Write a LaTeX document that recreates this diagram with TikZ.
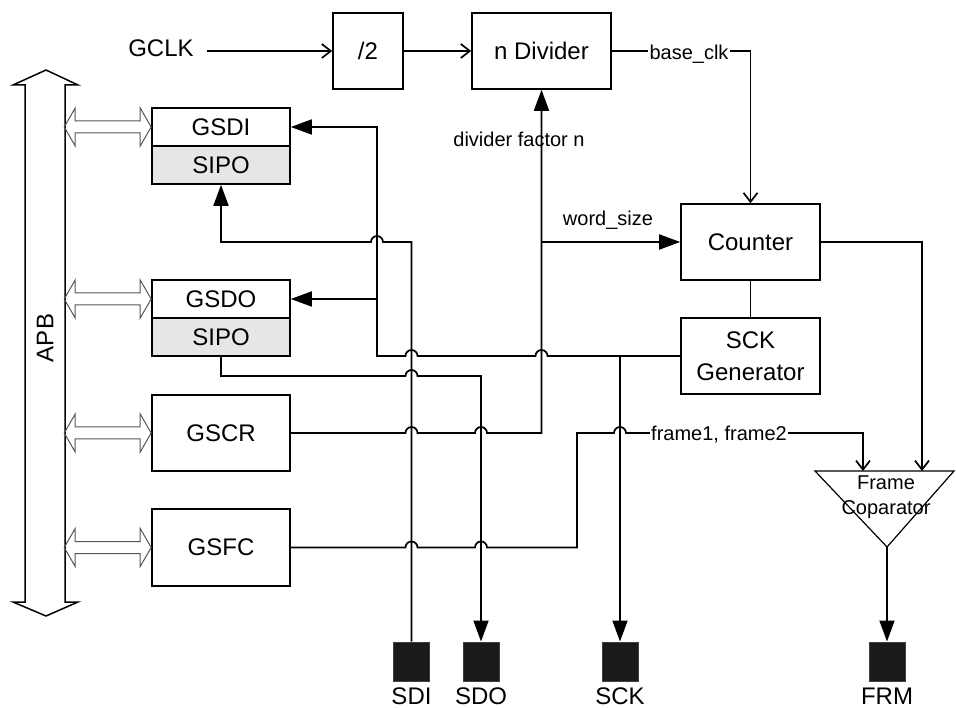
\documentclass[tikz,border=0pt]{standalone}
\usepackage{fontspec}
\setmainfont{Liberation Sans}
\usetikzlibrary{arrows.meta,calc}
\definecolor{sipogray}{HTML}{E6E6E6}
\definecolor{pinfill}{HTML}{1A1A1A}
\definecolor{busgray}{HTML}{555555}
\newcommand\fbig{\fontsize{24}{28}\selectfont}
\newcommand\fsmall{\fontsize{20}{25}\selectfont}
\newcommand\hopR[1]{-- ($#1+(-6pt,0)$) arc[start angle=180,end angle=0,radius=6pt]}
\newcommand\hopL[1]{-- ($#1+(6pt,0)$) arc[start angle=0,end angle=180,radius=6pt]}
\newcommand\busarrow[1]{\draw[busline] (#1) -- ++(-11,-19) -- ++(0,13) -- ++(-65,0) -- ++(0,-13) -- ++(-11,19) -- ++(11,19) -- ++(0,-13) -- ++(65,0) -- ++(0,13) -- cycle;}
\begin{document}
\begin{tikzpicture}[x=1pt,y=-1pt,
  wire/.style={line width=1.7pt},
  blk/.style={draw,line width=1.6pt,inner sep=0pt,font=\fbig},
  lbl/.style={font=\fsmall,inner sep=1.5pt},
  farr/.style={wire,-{Triangle[length=21pt,width=15pt]}},
  oarr/.style={wire,-{Straight Barb[length=9pt,width=14pt]}},
  pinbox/.style={draw=black!75,line width=1pt,fill=pinfill,minimum width=36pt,minimum height=39pt,inner sep=0pt},
  busline/.style={draw=busgray,line width=1pt},
]
\useasboundingbox (0,0) rectangle (956,708);

% APB bus
\draw[line width=1.5pt] (46,70) -- (78,85) -- (65,85) -- (65,602) -- (78,602) -- (46,616) -- (13,602) -- (25,602) -- (25,85) -- (13,85) -- cycle;
\node[font=\fbig,rotate=90] (apblbl) at (45,338) {APB};

% blocks
\node[font=\fbig] (gclk) at (161,48) {GCLK};
\node[blk,minimum width=70pt,minimum height=76pt] (half) at (368,51) {/2};
\node[blk,minimum width=139pt,minimum height=76pt] (ndiv) at (541.5,51) {n Divider};
\node[blk,minimum width=139pt,minimum height=76pt] (counter) at (750.5,242) {Counter};
\node[blk,minimum width=139pt,minimum height=76pt,align=center,font=\fontsize{24}{32}\selectfont] (sckgen) at (750.5,356) {SCK\\Generator};

\node[blk,minimum width=138pt,minimum height=38pt] (gsdi) at (221,127) {GSDI};
\node[blk,fill=sipogray,minimum width=138pt,minimum height=38pt] (sipo1) at (221,165) {SIPO};
\node[blk,minimum width=138pt,minimum height=38pt] (gsdo) at (221,299) {GSDO};
\node[blk,fill=sipogray,minimum width=138pt,minimum height=38pt] (sipo2) at (221,337) {SIPO};
\node[blk,minimum width=138pt,minimum height=76pt] (gscr) at (221,433) {GSCR};
\node[blk,minimum width=138pt,minimum height=77pt] (gsfc) at (221,547.5) {GSFC};

\busarrow{gsdi.west}
\busarrow{gsdo.west}
\busarrow{gscr.west}
\busarrow{gsfc.west}

% pins
\node[pinbox] (sdi) at (411.5,661.5) {};
\node[pinbox] (sdo) at (481,661.5) {};
\node[pinbox] (sck) at (620,661.5) {};
\node[pinbox] (frm) at (887,661.5) {};
\node[font=\fbig] (sdilbl) at (411.5,696.5) {SDI};
\node[font=\fbig] (sdolbl) at (481,696.5) {SDO};
\node[font=\fbig] (scklbl) at (620,696.5) {SCK};
\node[font=\fbig] (frmlbl) at (887,696.5) {FRM};

% frame comparator
\coordinate (fcL) at (815,471);
\coordinate (fcR) at (954,471);
\coordinate (fcA) at (887,547);
\draw[line width=1.2pt] (fcL) -- (fcR) -- (fcA) -- cycle;
\node[lbl,align=center] (fctext) at (886,497.5) {Frame\\Coparator};

% helper coordinates
\coordinate (bv) at (377,0);
\coordinate (fv) at (577,0);
\coordinate (sdoy) at (221,376);
\coordinate (fin1) at (863,471);
\coordinate (fin2) at (922,471);

% clock path
\draw[oarr] ([xshift=10pt]gclk.east |- half.west) -- (half.west);
\draw[oarr] (half.east) -- (ndiv.west);
\draw[oarr] (ndiv.east) -- (ndiv.east -| counter.north) -- (counter.north);
\node[lbl,fill=white,anchor=base] (baseclk) at (689,60) {base\_clk};

% divider factor
\draw[farr] (gscr.east) \hopR{(sdi.north |- gscr.east)} \hopR{(sdo.north |- gscr.east)} -- (ndiv.south |- gscr.east) -- (ndiv.south);
\node[lbl,anchor=base] (dfn) at (519,147) {divider factor n};
\draw[farr] (ndiv.south |- counter.west) -- (counter.west);
\node[lbl,anchor=base] (wsz) at (608,226) {word\_size};
\draw[wire] (counter.south) -- (sckgen.north);

% SCK generator bus
\draw[farr] (sckgen.west) \hopL{(ndiv.south |- sckgen.west)} \hopL{(sdi.north |- sckgen.west)} -- (bv |- sckgen.west) -- (bv |- gsdi.east) -- (gsdi.east);
\draw[farr] (bv |- gsdo.east) -- (gsdo.east);
\draw[farr] (sck.north |- sckgen.west) -- (sck.north);

% SDI / SDO
\draw[farr] (sdi.north) -- (sdi.north |- counter.west) \hopL{(bv |- counter.west)} -- (sipo1.south |- counter.west) -- (sipo1.south);
\draw[farr] (sipo2.south) -- (sdoy) \hopR{(sdi.north |- sdoy)} -- (sdo.north |- sdoy) -- (sdo.north);

% frame lines
\draw[oarr] (gsfc.east) \hopR{(sdi.north |- gsfc.east)} \hopR{(sdo.north |- gsfc.east)} -- (fv |- gsfc.east) -- (fv |- gscr.east) \hopR{(sck.north |- gscr.east)} -- (fin1 |- gscr.east) -- (fin1);
\node[lbl,fill=white,anchor=base] (frm12) at (719,440) {frame1, frame2};
\draw[oarr] (counter.east) -- (fin2 |- counter.east) -- (fin2);
\draw[farr] (fcA) -- (frm.north);
\end{tikzpicture}
\end{document}
